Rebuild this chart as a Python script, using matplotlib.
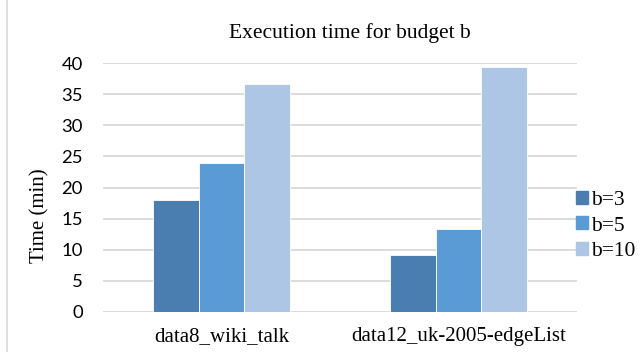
import matplotlib.pyplot as plt
import numpy as np
from matplotlib.lines import Line2D

datasets = ["data8_wiki_talk", "data12_uk-2005-edgeList"]
budgets = ["b=3", "b=5", "b=10"]
time_b3 = [18.0, 9.1]
time_b5 = [23.9, 13.4]
time_b10 = [36.6, 39.3]
yticks = [0, 5, 10, 15, 20, 25, 30, 35, 40]

colors = ["#4A7EB0", "#5B9BD5", "#ADC6E6"]
W, H = 641, 352

fig = plt.figure(figsize=(W / 100, H / 100), dpi=100)
# plot area in pixel terms: x 103..577, y 63..312
ax = fig.add_axes([103 / W, 1 - 312 / H, (577 - 103) / W, (312 - 63) / H])

x = np.arange(len(datasets))
bw = 0.194
for i, vals in enumerate([time_b3, time_b5, time_b10]):
    ax.bar(x + (i - 1) * bw, vals, bw, color=colors[i], label=budgets[i],
           edgecolor="white", linewidth=0.6, zorder=3)

ax.set_xlim(-0.5, 1.5)
ax.set_ylim(0, 40)
ax.set_yticks(yticks)
ax.set_yticklabels([str(t) for t in yticks], family="Lato", fontsize=13.3)
ax.set_xticks(x)
ax.set_xticklabels(datasets, family="Liberation Serif", fontsize=15)
ax.tick_params(length=0)
ax.tick_params(axis="y", pad=14.5)
ax.tick_params(axis="x", pad=11)
ax.grid(axis="y", color="#D9D9D9", linewidth=1.3, zorder=0)
for s in ax.spines.values():
    s.set_visible(False)

fig.text(350 / W, 1 - 33 / H, "Execution time for budget b", ha="center", va="center",
         family="Liberation Serif", fontsize=15.5)
fig.text(40 / W, 1 - 216 / H, "Time (min)", ha="center", va="center", rotation=90,
         family="Liberation Serif", fontsize=15)

handles = [plt.Rectangle((0, 0), 1, 1, color=c) for c in colors]
fig.legend(handles, budgets, loc="center left", bbox_to_anchor=(561 / W, 1 - 226 / H),
           frameon=False, prop={"family": "Liberation Serif", "size": 15.5},
           handlelength=0.55, handleheight=0.55, handletextpad=0.15, labelspacing=0.3,
           borderpad=0.2)

# chart border on the left
fig.add_artist(Line2D([7 / W, 7 / W], [0, 1], color="#D9D9D9", linewidth=1.2))

fig.savefig("out.png", dpi=100)
